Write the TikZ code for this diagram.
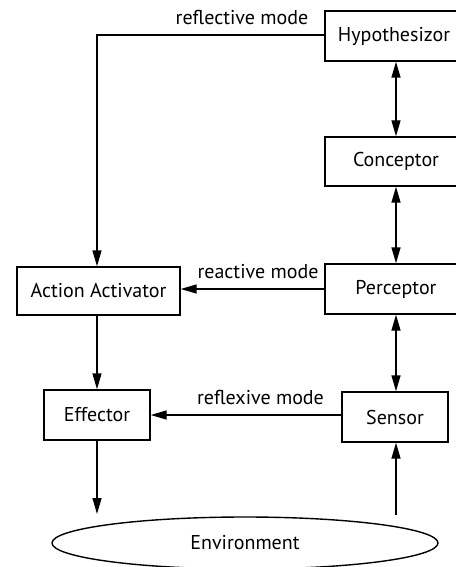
\documentclass[tikz,border=0pt]{standalone}
\usepackage{fontspec}
\setmainfont{PT Sans}
\usetikzlibrary{arrows.meta,shapes.geometric}
\begin{document}
\begin{tikzpicture}[x=1pt,y=-1pt,
  font=\fontsize{20}{24}\selectfont,
  box/.style={draw,line width=1.4pt,inner sep=0pt,minimum height=50pt},
  link/.style={line width=1.4pt,-{Triangle[length=16pt,width=9pt]}},
  both/.style={line width=1.4pt,{Triangle[length=16pt,width=9pt]}-{Triangle[length=16pt,width=9pt]}},
  lbl/.style={inner sep=0pt}]
\useasboundingbox (0,0) rectangle (455,567);
% right column
\node[box,minimum width=142pt] (hyp) at (396,36) {\hspace*{-4pt}Hypothesizor};
\node[box,minimum width=142pt,minimum height=49pt] (con) at (396,161.5) {Conceptor};
\node[box,minimum width=142pt] (per) at (396,289) {Perceptor};
\node[box,minimum width=106pt] (sen) at (395,417) {Sensor};
% left column
\node[box,minimum width=163pt,minimum height=48pt] (act) at (98.5,291) {Action Activator};
\node[box,minimum width=106pt] (eff) at (97,415) {Effector};
% environment
\node[draw,ellipse,line width=1.4pt,minimum width=386pt,minimum height=52pt,inner sep=0pt] (env) at (245,543) {Environment};
\coordinate (effout) at (97,514);
\coordinate (senin) at (396,515);
% connectors
\draw[both] (hyp.south -| 396,0) -- (con.north -| 396,0);
\draw[both] (con.south -| 396,0) -- (per.north -| 396,0);
\draw[both] (per.south -| 396,0) -- (sen.north -| 396,0);
\draw[link] (hyp.west |- 0,35) -| (act.north -| 97,0);
\draw[link] (per.west |- 0,289) -- (act.east |- 0,289);
\draw[link] (sen.west |- 0,415) -- (eff.east |- 0,415);
\draw[link] (act.south -| 97,0) -- (eff.north -| 97,0);
\draw[link] (eff.south -| 97,0) -- (effout);
\draw[link] (senin) -- (sen.south -| 396,0);
% mode labels
\node[lbl] (refl) at (242,18) {reflective mode};
\node[lbl] (reac) at (258,272) {reactive mode};
\node[lbl] (refx) at (260.5,397) {reflexive mode};
\end{tikzpicture}
\end{document}
